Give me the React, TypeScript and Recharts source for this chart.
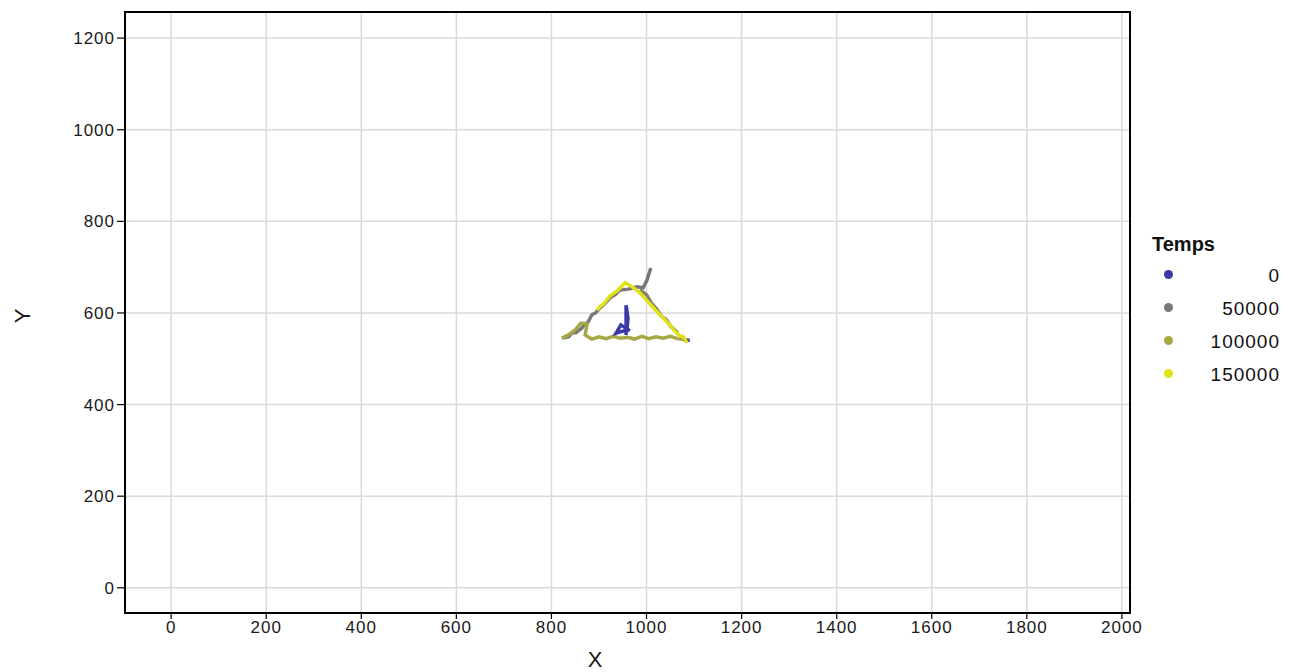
import { CartesianGrid, Line, LineChart, ReferenceArea, XAxis, YAxis } from "recharts"

const xTicks = [0, 200, 400, 600, 800, 1000, 1200, 1400, 1600, 1800, 2000]
const yTicks = [0, 200, 400, 600, 800, 1000, 1200]
const legendTimes = [0, 50000, 100000, 150000]

// trajectories, one per time step (Temps)
const startTime = 0
const startX = [957, 957, 961, 959, 936, 946, 965]
const startY = [552, 617, 589, 563, 556, 574, 561]

const cornerTime = 20000
const cornerX = [1078, 1085, 1091]
const cornerY = [543, 540, 541]

const midTime = 50000
const midX = [822, 836, 843, 852, 864, 870, 877, 885, 893, 902, 912, 923, 934, 944, 962, 980, 993, 1001, 1009]
const midY = [545, 548, 556, 557, 567, 575, 580, 596, 600, 611, 620, 633, 640, 650, 652, 657, 655, 672, 698]

const edgeTime = 60000
const edgeX = [986, 1000, 1010, 1020, 1033, 1042, 1050, 1066]
const edgeY = [650, 640, 622, 610, 591, 585, 572, 556]

const baseTime = 100000
const baseX = [822, 836, 850, 862, 875, 871, 885, 900, 915, 930, 945, 960, 975, 990, 1005, 1020, 1035, 1050, 1065, 1087]
const baseY = [545, 552, 563, 578, 576, 552, 543, 548, 544, 549, 545, 547, 543, 549, 544, 548, 545, 549, 544, 541]

const lateTime = 150000
const lateX = [896, 902, 910, 923, 940, 955, 970, 986, 1002, 1018, 1033, 1049, 1060, 1070, 1078, 1085]
const lateY = [606, 614, 620, 637, 650, 666, 657, 644, 626, 607, 591, 574, 560, 550, 548, 535]

const stops = [
  { t: 0, c: [58, 58, 166] },
  { t: 50000, c: [120, 120, 120] },
  { t: 100000, c: [167, 167, 68] },
  { t: 150000, c: [226, 226, 24] },
]

function colorFor(t: number) {
  for (let i = 0; i < stops.length - 1; i++) {
    const a = stops[i]
    const b = stops[i + 1]
    if (t <= b.t) {
      const k = (t - a.t) / (b.t - a.t)
      const c = a.c.map((v, j) => Math.round(v + (b.c[j] - v) * k))
      return `rgb(${c[0]},${c[1]},${c[2]})`
    }
  }
  const c = stops[stops.length - 1].c
  return `rgb(${c[0]},${c[1]},${c[2]})`
}

const zip = (xs: number[], ys: number[]) => xs.map((x, i) => ({ x, y: ys[i] }))

const traces = [
  { time: midTime, data: zip(midX, midY) },
  { time: edgeTime, data: zip(edgeX, edgeY) },
  { time: baseTime, data: zip(baseX, baseY) },
  { time: startTime, data: zip(startX, startY) },
  { time: cornerTime, data: zip(cornerX, cornerY) },
  { time: lateTime, data: zip(lateX, lateY) },
]

const font = "'Liberation Sans', Arial, sans-serif"
const tickStyle = { fill: "#1a1a1a", fontSize: 17, fontFamily: font, letterSpacing: 1 }

export default function App() {
  return (
    <div style={{ position: "absolute", left: 0, top: 0, width: 1296, height: 672, background: "#fff", fontFamily: font }}>
      <LineChart width={1296} height={672} margin={{ top: 12, right: 166, bottom: 0, left: 0 }}>
        <CartesianGrid stroke="#dadada" strokeWidth={1.5} verticalValues={xTicks} horizontalValues={yTicks} />
        <XAxis
          type="number"
          dataKey="x"
          domain={[-97, 2017]}
          allowDataOverflow
          ticks={xTicks}
          height={59}
          tickSize={6}
          axisLine={false}
          tickLine={{ stroke: "#000", strokeWidth: 1.2 }}
          tick={tickStyle}
          label={(props: any) => (
            <text x={595} y={667} textAnchor="middle" fill="#1a1a1a" fontSize={22} fontFamily={font}>
              X
            </text>
          )}
        />
        <YAxis
          type="number"
          dataKey="y"
          domain={[-55, 1257]}
          allowDataOverflow
          ticks={yTicks}
          width={125}
          tickSize={8}
          axisLine={false}
          tickLine={{ stroke: "#000", strokeWidth: 1.2 }}
          tick={tickStyle}
          label={(props: any) => (
            <text x={30} y={316} textAnchor="middle" fill="#1a1a1a" fontSize={22} fontFamily={font} transform="rotate(-90 30 316)">
              Y
            </text>
          )}
        />
        {traces.map((tr, i) => (
          <Line
            key={i}
            data={tr.data}
            dataKey="y"
            type="linear"
            stroke={colorFor(tr.time)}
            strokeWidth={3.5}
            dot={false}
            activeDot={false}
            isAnimationActive={false}
          />
        ))}
        <ReferenceArea x1={-97} x2={2017} y1={-55} y2={1257} fill="none" stroke="#000" strokeWidth={2} />
      </LineChart>
      <div style={{ position: "absolute", left: 1152, top: 231, width: 130, color: "#111" }}>
        <div style={{ fontWeight: "bold", fontSize: 20, lineHeight: "26px" }}>Temps</div>
        {legendTimes.map((t) => (
          <div key={t} style={{ position: "relative", height: 33, fontSize: 19, lineHeight: "33px", letterSpacing: 1 }}>
            <span
              style={{
                position: "absolute",
                left: 12,
                top: 13,
                width: 9,
                height: 9,
                borderRadius: "50%",
                background: colorFor(t),
              }}
            />
            <span style={{ position: "absolute", right: 2, top: 2 }}>{t}</span>
          </div>
        ))}
      </div>
    </div>
  )
}
